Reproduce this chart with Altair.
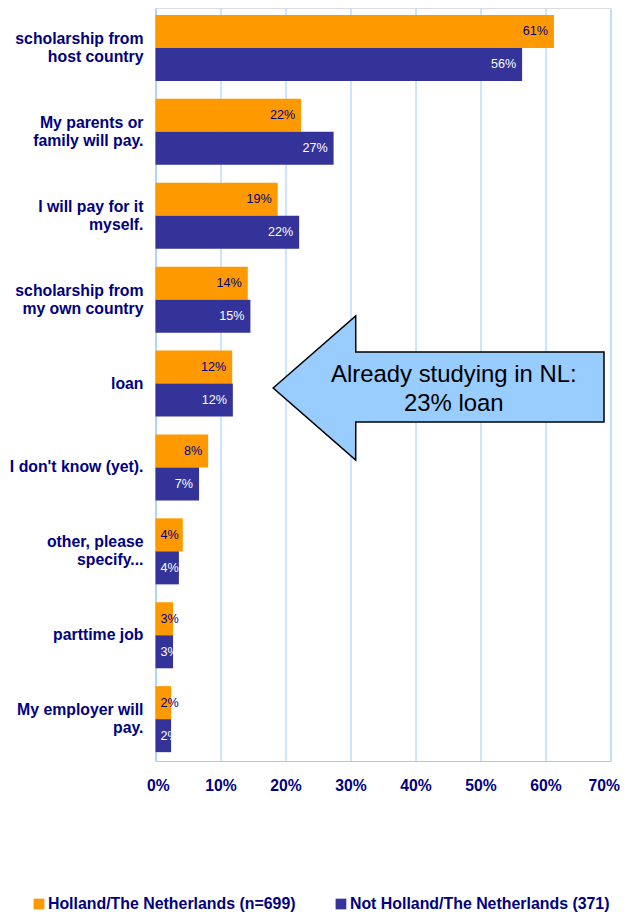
import altair as alt
import pandas as pd

# ---- data ----
categories = [
    "scholarship from|host country",
    "My parents or|family will pay.",
    "I will pay for it|myself.",
    "scholarship from|my own country",
    "loan",
    "I don't know (yet).",
    "other, please|specify...",
    "parttime job",
    "My employer will|pay.",
]
series = ["Holland/The Netherlands (n=699)", "Not Holland/The Netherlands (371)"]
holland = [61.3, 22.4, 18.8, 14.2, 11.8, 8.1, 4.2, 2.7, 2.4]
not_holland = [56.4, 27.4, 22.1, 14.6, 11.9, 6.7, 3.6, 2.7, 2.4]
x_ticks = [0, 10, 20, 30, 40, 50, 60, 70]

# ---- annotation arrow (x in % units, y in px from plot top, 753 = plot height) ----
arrow_x = [18.1, 30.8, 30.81, 69.0]
arrow_top = [380, 308, 344, 344]
arrow_bottom = [380, 452, 414, 414]
note_lines = ["Already studying in NL:", "23% loan"]
note_x = [45.9, 45.9]
note_y = [374, 403]

ORANGE = "#FF9900"
BLUE = "#333399"
NAVY = "#000080"
GRID = "#99CCFF"
FONT = "Liberation Sans"
W, H = 455, 753

rows = []
for c, a, b in zip(categories, holland, not_holland):
    rows.append({"category": c, "series": series[0], "value": a})
    rows.append({"category": c, "series": series[1], "value": b})
df = pd.DataFrame(rows)

xscale = alt.Scale(domain=[0, 70], nice=False, zero=True)
xaxis = alt.Axis(values=x_ticks, labelExpr="datum.value + '%'", labelFontSize=15.7,
                 labelFontWeight="bold", labelColor=NAVY, labelPadding=17.5,
                 labelFlush=True, labelFlushOffset=9, ticks=False, domainColor=GRID,
                 grid=True, gridColor=GRID, labelFont=FONT, title=None)
yscale = alt.Scale(domain=categories, paddingInner=0.213, paddingOuter=0.094, align=0.44)
offscale = alt.Scale(domain=series, paddingInner=0, paddingOuter=0)

base = alt.Chart(df).encode(
    y=alt.Y("category:N", scale=yscale, sort=categories, title=None,
            axis=alt.Axis(labelExpr="split(datum.label, '|')", labelFontSize=15.8,
                          labelFontWeight="bold", labelColor=NAVY, labelLineHeight=18,
                          labelOffset={"condition": {"test": "indexof(datum.value, '|') >= 0",
                                                     "value": -9}, "value": 0},
                          labelPadding=12.5, ticks=False, domainColor=GRID, grid=False,
                          labelFont=FONT, labelLimit=300)),
    yOffset=alt.YOffset("series:N", scale=offscale, sort=series),
)

bars = base.mark_bar().encode(
    x=alt.X("value:Q", scale=xscale, title=None, axis=xaxis),
    color=alt.Color("series:N", scale=alt.Scale(domain=series, range=[ORANGE, BLUE]),
                    title=None,
                    legend=alt.Legend(orient="none", direction="horizontal", legendX=-124.5,
                                      legendY=888, symbolType="square", symbolSize=115,
                                      symbolStrokeWidth=0, labelFontSize=15.9,
                                      labelFontWeight="bold", labelColor=NAVY, labelFont=FONT,
                                      labelLimit=0, columnPadding=37, labelOffset=1,
                                      padding=0)),
)

txt_color = alt.condition(alt.datum.series == series[0], alt.value(NAVY), alt.value("white"))

lbl_big = base.transform_filter("datum.value >= 5").transform_calculate(
    label="format(datum.value, '.0f') + '%'"
).mark_text(align="right", dx=-6, fontSize=12.6, font=FONT, baseline="middle").encode(
    x=alt.X("value:Q", scale=xscale, axis=xaxis),
    text="label:N",
    color=txt_color,
)

lbl_small = base.transform_filter("datum.value < 5").transform_calculate(
    label="format(datum.value, '.0f') + '%'", zero="0"
).mark_text(align="left", dx=5, fontSize=12.6, font=FONT, baseline="middle").encode(
    x=alt.X("zero:Q", scale=xscale, axis=xaxis),
    text="label:N",
    color=txt_color,
)

arrow_df = pd.DataFrame({"x": arrow_x, "top": arrow_top, "bottom": arrow_bottom})
pxscale = alt.Scale(domain=[0, H], reverse=True, nice=False, zero=False)

arrow = alt.Chart(arrow_df).mark_area(
    orient="vertical", fill=GRID, stroke="black", strokeWidth=1.5, opacity=1
).encode(
    x=alt.X("x:Q", scale=xscale, axis=xaxis),
    y=alt.Y("top:Q", scale=pxscale, axis=None),
    y2="bottom:Q",
)

note_df = pd.DataFrame({"t": note_lines, "x": note_x, "y": note_y})
note = alt.Chart(note_df).mark_text(
    fontSize=23.9, font=FONT, color="black", align="center", baseline="alphabetic"
).encode(
    x=alt.X("x:Q", scale=xscale, axis=xaxis),
    y=alt.Y("y:Q", scale=pxscale, axis=None),
    text="t:N",
)

main = alt.layer(bars, lbl_big, lbl_small)
ann = alt.layer(arrow, note)

chart = alt.layer(main, ann).resolve_scale(y="independent").properties(
    width=W, height=H,
    padding={"left": 147.5, "top": 0, "right": 9.5, "bottom": 152},
    autosize=alt.AutoSizeParams(type="none"),
).configure_view(stroke=GRID, strokeWidth=1).configure(font=FONT)

chart.save("out.html", embed_options={"renderer": "svg", "actions": False})
